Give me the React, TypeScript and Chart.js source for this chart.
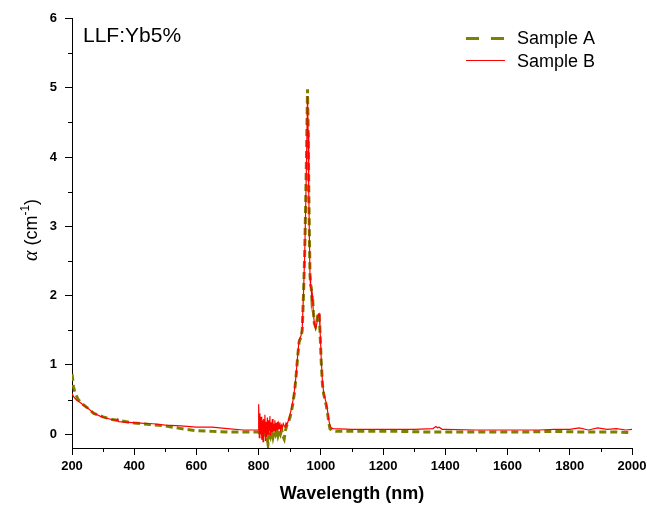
import React, { useEffect, useRef } from "react";
import { Chart, registerables } from "chart.js";

Chart.register(...registerables);

// ---- data ----
const wavelengthA = [
  200, 202, 205, 210, 220, 235, 255, 270, 300, 330, 360, 400, 450, 500, 550, 600, 650, 700, 750, 800,
  806, 812, 818, 822, 826, 830, 834, 838, 842, 846, 850, 854, 858, 862, 866, 870, 874, 878, 882, 886,
  890, 895, 900, 905, 910, 915, 920, 925, 930, 936, 940, 944, 948, 951, 954, 957, 959, 961, 963, 965,
  967, 969, 971, 973, 976, 979, 983, 987, 991, 994, 997, 1001, 1005, 1009, 1013, 1017, 1021, 1025, 1029, 1035,
  1050, 1150, 1250, 1350, 1450, 1550, 1650, 1750, 1850, 1950, 2000,
];
const alphaA = [
  0.87, 0.8, 0.68, 0.59, 0.5, 0.43, 0.36, 0.3, 0.25, 0.21, 0.19, 0.16, 0.14, 0.12, 0.08, 0.05, 0.04, 0.03, 0.03, 0.03,
  0.0, 0.05, -0.06, 0.04, -0.02, -0.14, 0.03, -0.03, 0.06, -0.04, 0.05, 0.0, 0.07, -0.02, 0.05, 0.0, 0.06, -0.03, -0.07, 0.05,
  0.12, 0.17, 0.23, 0.32, 0.44, 0.6, 0.82, 1.1, 1.33, 1.4, 1.5, 2.0, 2.62, 3.3, 4.1, 4.98, 4.45, 3.6, 2.9, 2.3,
  2.15, 2.12, 1.95, 2.0, 1.75, 1.6, 1.55, 1.62, 1.75, 1.72, 1.5, 1.05, 0.72, 0.58, 0.5, 0.42, 0.32, 0.18, 0.08, 0.05,
  0.04, 0.04, 0.04, 0.03, 0.03, 0.03, 0.03, 0.04, 0.03, 0.03, 0.02,
];

const wavelengthB = [
  200, 205, 215, 225, 240, 255, 270, 290, 310, 330, 343, 347, 350, 380, 420, 460, 500, 550, 600, 650, 700, 750, 798,
  800, 802, 804, 806, 808, 810, 812, 814, 816, 818, 820, 822, 824, 826, 828, 830, 832, 834, 836, 838, 840,
  842, 844, 846, 848, 850, 852, 854, 856, 858, 860, 862, 864, 866, 868, 870, 873, 876, 879, 882, 885, 888, 891,
  895, 900, 905, 910, 915, 920, 925, 930, 936, 940, 944, 948, 951, 954, 957, 959, 961, 963, 965, 967, 969, 971,
  973, 976, 979, 983, 987, 991, 994, 997, 1001, 1005, 1009, 1013, 1017, 1021, 1025, 1029, 1033, 1040,
  1100, 1200, 1300, 1360, 1370, 1375, 1380, 1390, 1400, 1500, 1600, 1700, 1750, 1800, 1830, 1860, 1890, 1920, 1950, 1980, 2000,
];
const alphaB = [
  0.59, 0.54, 0.49, 0.46, 0.41, 0.36, 0.3, 0.26, 0.23, 0.21, 0.2, 0.22, 0.18, 0.17, 0.16, 0.15, 0.13, 0.12, 0.1, 0.1, 0.08, 0.06, 0.06,
  0.43, -0.05, 0.3, 0.0, 0.25, -0.08, 0.2, -0.11, 0.22, 0.02, 0.28, -0.1, 0.18, -0.04, 0.24, 0.0, 0.2, 0.05, 0.26, -0.02, 0.17,
  0.03, 0.22, 0.02, 0.15, 0.05, 0.2, 0.03, 0.16, 0.06, 0.18, 0.05, 0.14, 0.08, 0.17, 0.07, 0.13, 0.09, 0.15, 0.12, 0.1, 0.16, 0.14,
  0.19, 0.27, 0.36, 0.48, 0.63, 0.84, 1.12, 1.36, 1.42, 1.52, 2.02, 2.6, 3.25, 4.0, 4.88, 4.35, 3.5, 2.85, 2.28, 2.12, 2.1, 1.92,
  1.98, 1.74, 1.6, 1.52, 1.6, 1.73, 1.74, 1.55, 1.1, 0.75, 0.6, 0.52, 0.45, 0.35, 0.22, 0.12, 0.09, 0.08,
  0.07, 0.07, 0.07, 0.08, 0.11, 0.09, 0.1, 0.07, 0.07, 0.06, 0.06, 0.06, 0.07, 0.07, 0.09, 0.06, 0.09, 0.07, 0.08, 0.06, 0.07,
];

const xTickValues = [200, 400, 600, 800, 1000, 1200, 1400, 1600, 1800, 2000];
const xMinorValues = [300, 500, 700, 900, 1100, 1300, 1500, 1700, 1900];
const yTickValues = [0, 1, 2, 3, 4, 5, 6];
const yMinorValues = [0.5, 1.5, 2.5, 3.5, 4.5, 5.5];
const seriesNames = ["Sample A", "Sample B"];
const seriesColors = ["#808000", "#ff0000"];
const panelLabel = "LLF:Yb5%";
const xTitle = "Wavelength (nm)";

const FONT = '"Liberation Sans", Arial, Helvetica, sans-serif';

export default function App() {
  const ref = useRef<HTMLCanvasElement>(null);

  useEffect(() => {
    const canvas = ref.current;
    if (!canvas) return;

    const overlay = {
      id: "overlay",
      afterDraw(chart: any) {
        const ctx = chart.ctx as CanvasRenderingContext2D;
        const xs = chart.scales.x;
        const ys = chart.scales.y;
        const area = chart.chartArea;
        ctx.save();
        // minor ticks
        ctx.strokeStyle = "#000";
        ctx.lineWidth = 1;
        ctx.beginPath();
        for (const v of xMinorValues) {
          const px = Math.round(xs.getPixelForValue(v)) + 0.5;
          ctx.moveTo(px, area.bottom);
          ctx.lineTo(px, area.bottom + 4);
        }
        for (const v of yMinorValues) {
          const py = Math.round(ys.getPixelForValue(v)) + 0.5;
          ctx.moveTo(area.left, py);
          ctx.lineTo(area.left - 4, py);
        }
        ctx.stroke();

        // panel label
        ctx.fillStyle = "#000";
        ctx.font = `21px ${FONT}`;
        ctx.textBaseline = "alphabetic";
        ctx.textAlign = "left";
        ctx.fillText(panelLabel, 83, 42);

        // legend
        ctx.lineWidth = 3;
        ctx.strokeStyle = seriesColors[0];
        ctx.setLineDash([13, 12]);
        ctx.beginPath();
        ctx.moveTo(466, 38.5);
        ctx.lineTo(505, 38.5);
        ctx.stroke();
        ctx.setLineDash([]);
        ctx.lineWidth = 1.2;
        ctx.strokeStyle = seriesColors[1];
        ctx.beginPath();
        ctx.moveTo(466, 60.5);
        ctx.lineTo(505, 60.5);
        ctx.stroke();
        ctx.font = `18px ${FONT}`;
        ctx.fillStyle = "#000";
        ctx.fillText(seriesNames[0], 517, 44);
        ctx.fillText(seriesNames[1], 517, 66.5);

        // y title: α (cm^-1)
        ctx.translate(37, 230);
        ctx.rotate(-Math.PI / 2);
        const parts = [
          { t: "\u03B1", f: `italic 20px "Liberation Serif", "DejaVu Serif", serif`, dy: 0 },
          { t: " (cm", f: `18px ${FONT}`, dy: 0 },
          { t: "-1", f: `12px ${FONT}`, dy: -8 },
          { t: ")", f: `18px ${FONT}`, dy: 0 },
        ];
        let total = 0;
        for (const p of parts) {
          ctx.font = p.f;
          total += ctx.measureText(p.t).width;
        }
        let cx = -total / 2;
        for (const p of parts) {
          ctx.font = p.f;
          ctx.fillText(p.t, cx, p.dy);
          cx += ctx.measureText(p.t).width;
        }
        ctx.restore();
      },
    };

    const chart = new Chart(canvas, {
      type: "line",
      data: {
        datasets: [
          {
            label: seriesNames[0],
            data: wavelengthA.map((x, i) => ({ x, y: alphaA[i] })),
            borderColor: seriesColors[0],
            backgroundColor: seriesColors[0],
            borderWidth: 3,
            borderDash: [7, 4],
            pointRadius: 0,
            fill: false,
            tension: 0,
            order: 2,
          },
          {
            label: seriesNames[1],
            data: wavelengthB.map((x, i) => ({ x, y: alphaB[i] })),
            borderColor: seriesColors[1],
            backgroundColor: seriesColors[1],
            borderWidth: 1.2,
            pointRadius: 0,
            fill: false,
            tension: 0,
            order: 1,
          },
        ],
      },
      options: {
        animation: false,
        responsive: false,
        events: [],
        layout: { padding: { top: 18.5, right: 15, bottom: 0, left: 0 } },
        plugins: {
          legend: { display: false },
          tooltip: { enabled: false },
          title: { display: false },
        },
        scales: {
          x: {
            type: "linear",
            min: 200,
            max: 2000,
            afterBuildTicks: (s: any) => {
              s.ticks = xTickValues.map((v) => ({ value: v }));
            },
            afterFit: (s: any) => {
              s.height = 58;
              s.paddingLeft = 0;
              s.paddingRight = 0;
            },
            ticks: {
              font: { family: FONT, size: 13, weight: "bold" },
              color: "#000",
              padding: 4,
              maxRotation: 0,
              autoSkip: false,
              callback: (v: any) => String(v),
            },
            grid: {
              display: true,
              drawOnChartArea: false,
              drawTicks: true,
              tickLength: 7,
              tickColor: "#000",
              tickWidth: 1,
            },
            border: { display: true, color: "#000", width: 1 },
            title: {
              display: true,
              text: xTitle,
              font: { family: FONT, size: 18, weight: "bold" },
              color: "#000",
              padding: { top: 0, bottom: 1 },
            },
          },
          y: {
            type: "linear",
            min: -0.2,
            max: 6,
            afterBuildTicks: (s: any) => {
              s.ticks = yTickValues.map((v) => ({ value: v }));
            },
            afterFit: (s: any) => {
              s.width = 72;
              s.paddingTop = 0;
              s.paddingBottom = 0;
            },
            ticks: {
              font: { family: FONT, size: 13, weight: "bold" },
              color: "#000",
              padding: 8,
              autoSkip: false,
              callback: (v: any) => String(v),
            },
            grid: {
              display: true,
              drawOnChartArea: false,
              drawTicks: true,
              tickLength: 7,
              tickColor: "#000",
              tickWidth: 1,
            },
            border: { display: true, color: "#000", width: 1 },
            title: { display: false },
          },
        },
      },
      plugins: [overlay],
    } as any);

    return () => chart.destroy();
  }, []);

  return (
    <div style={{ position: "fixed", left: 0, top: 0, width: 647, height: 506, background: "#fff" }}>
      <canvas ref={ref} width={647} height={506} style={{ display: "block", width: 647, height: 506 }} />
    </div>
  );
}
